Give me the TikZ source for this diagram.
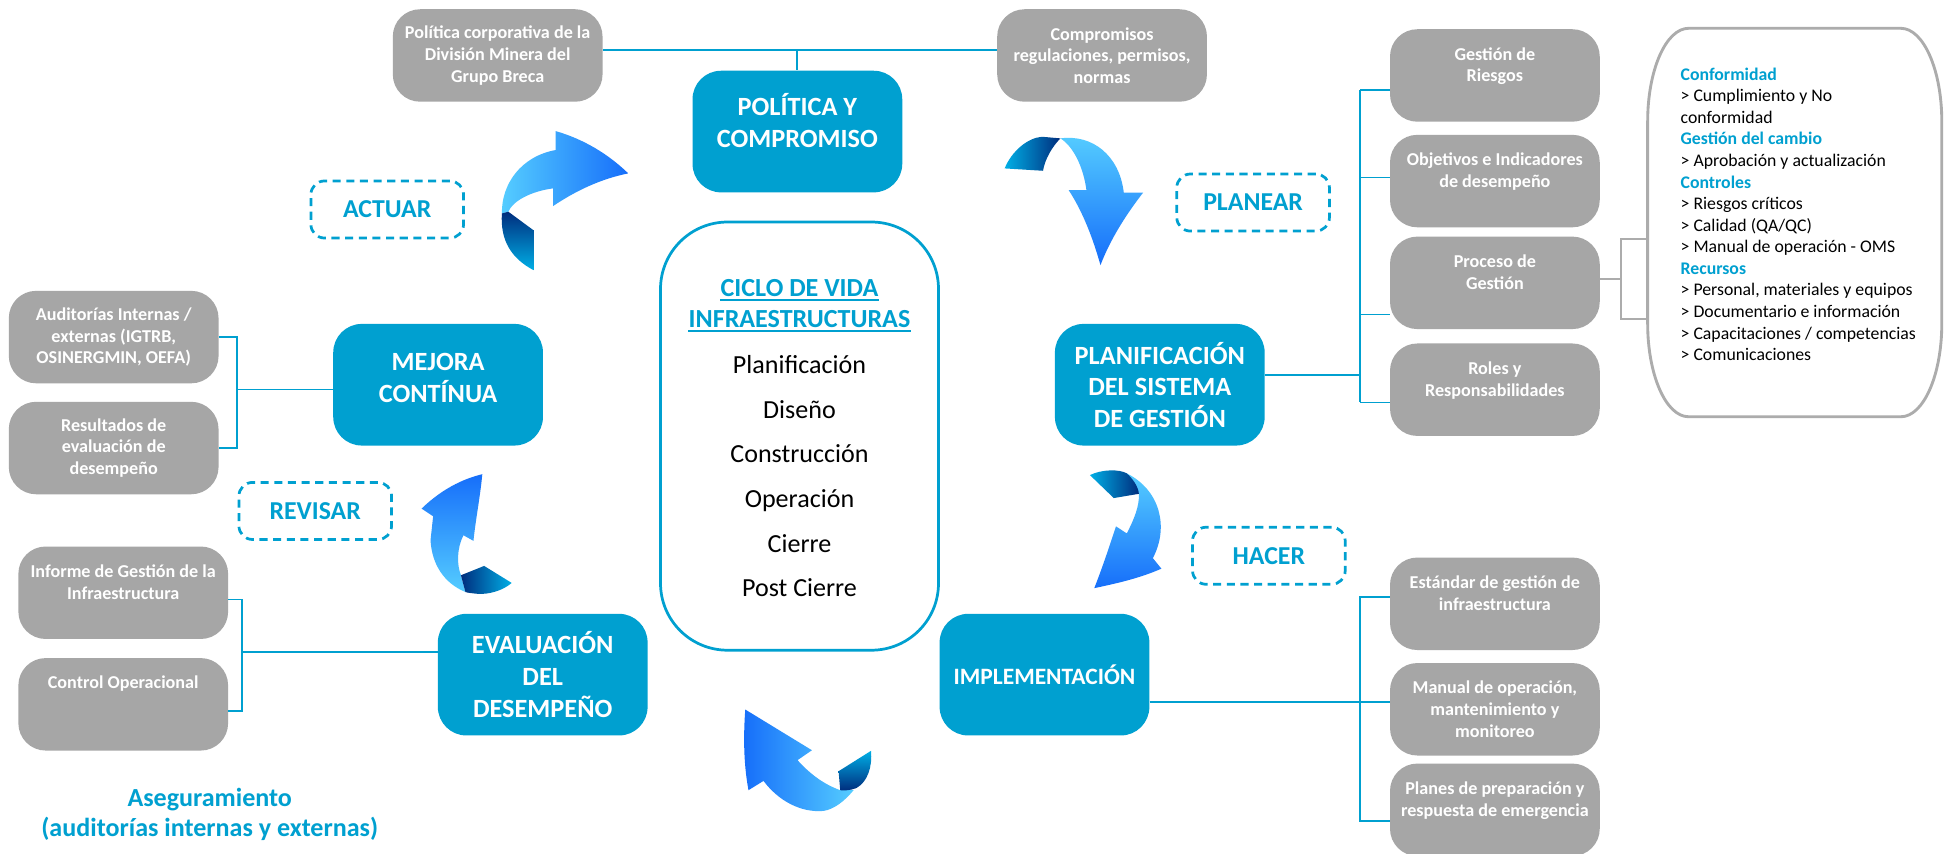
\documentclass[tikz,border=0pt]{standalone}
\usepackage{fontspec}
\setmainfont{Carlito}
\usetikzlibrary{positioning}

\definecolor{azul}{RGB}{0,160,208}
\definecolor{gris}{RGB}{166,166,166}
\definecolor{grisclaro}{RGB}{172,172,172}
\definecolor{claro}{RGB}{85,205,255}
\definecolor{medio}{RGB}{22,110,250}
\definecolor{oscuro}{RGB}{0,45,125}
\definecolor{cian}{RGB}{0,175,230}

\begin{document}
\begin{tikzpicture}[x=1pt,y=-1pt,
    fase/.style={fill=azul,rounded corners=23pt,minimum width=169pt,minimum height=98pt,
      text=white,align=center,inner sep=2pt,font=\bfseries\fontsize{21.2}{25.5}\selectfont},
    caja/.style={fill=gris,rounded corners=22pt,minimum width=169pt,minimum height=74.5pt,
      text=white,align=center,inner sep=2pt,font=\bfseries\fontsize{14.6}{17.5}\selectfont},
    etiqueta/.style={draw=azul,line width=2.2pt,dash pattern=on 6.5pt off 4.5pt,rounded corners=11pt,
      minimum width=123pt,minimum height=46pt,text=azul,font=\bfseries\fontsize{20.8}{25}\selectfont},
    linea/.style={azul,line width=1.5pt},
    lineagris/.style={grisclaro,line width=1.6pt},
    titulo/.style={anchor=base,inner sep=0pt,text=azul,font=\bfseries\fontsize{21}{25}\selectfont},
    etapa/.style={anchor=base,inner sep=0pt,font=\fontsize{21}{25}\selectfont},
    cab/.style={anchor=base west,inner sep=0pt,text=azul,font=\bfseries\fontsize{14.3}{17.4}\selectfont},
    punto/.style={anchor=base west,inner sep=0pt,font=\fontsize{14.3}{17.4}\selectfont},
  ]
    \path[use as bounding box,fill=white] (0,0) rectangle (1568,688);

    % fases del ciclo
    \node[fase] (politica) at (642.5,106) {POLÍTICA Y\\COMPROMISO\\[-8pt]\mbox{}};
    \node[fase] (planif) at (934.5,310) {PLANIFICACIÓN\\DEL SISTEMA\\DE GESTIÓN};
    \node[fase,font=\bfseries\fontsize{18.9}{23}\selectfont] (implem) at (841.6,543.6) {IMPLEMENTACIÓN};
    \node[fase] (evalua) at (437.3,543.6) {EVALUACIÓN\\DEL\\DESEMPEÑO};
    \node[fase] (mejora) at (353,310) {MEJORA\\CONTÍNUA\\[-14pt]\mbox{}};

    % cajas grises
    \node[caja] (corporativa) at (401,44.7) {Política corporativa de la\\División Minera del\\Grupo Breca};
    \node[caja] (compromisos) at (888,44.7) {Compromisos\\regulaciones, permisos,\\normas};
    \node[caja] (riesgos) at (1204.5,60.8) {Gestión de\\Riesgos\\\mbox{}};
    \node[caja] (objetivos) at (1204.5,145.9) {Objetivos e Indicadores\\de desempeño\\\mbox{}};
    \node[caja] (proceso) at (1204.5,227.9) {Proceso de\\Gestión\\\mbox{}};
    \node[caja] (roles) at (1204.5,314) {Roles y\\Responsabilidades\\\mbox{}};
    \node[caja] (estandar) at (1204.5,486.5) {Estándar de gestión de\\infraestructura\\\mbox{}};
    \node[caja] (manual) at (1204.5,571.5) {Manual de operación,\\mantenimiento y\\monitoreo};
    \node[caja] (planes) at (1204.5,652.5) {Planes de preparación y\\respuesta de emergencia\\\mbox{}};
    \node[caja] (auditorias) at (91.6,271.6) {Auditorías Internas /\\externas (IGTRB,\\OSINERGMIN, OEFA)};
    \node[caja] (resultados) at (91.6,361) {Resultados de\\evaluación de\\desempeño};
    \node[caja] (informe) at (99.3,477.6) {Informe de Gestión de la\\Infraestructura\\\mbox{}};
    \node[caja] (control) at (99.3,567.5) {Control Operacional\\\mbox{}\\\mbox{}};

    % etiquetas PHVA
    \node[etiqueta] (actuar) at (312,168.8) {ACTUAR};
    \node[etiqueta] (planear) at (1009.7,163.2) {PLANEAR};
    \node[etiqueta] (revisar) at (254,411.7) {REVISAR};
    \node[etiqueta] (hacer) at (1022.4,447.8) {HACER};

    % ciclo de vida
    \node[draw=azul,line width=2.2pt,rounded corners=54pt,fill=white,
      minimum width=224pt,minimum height=345pt] (ciclo) at (644.2,351.4) {};
    \node[titulo] (ciclo1) at (644.2,239) {CICLO DE VIDA};
    \node[titulo] (ciclo2) at (644.2,264) {INFRAESTRUCTURAS};
    \foreach \n in {ciclo1,ciclo2}
      \draw[azul,line width=1.5pt] ([yshift=-2.6pt]\n.base west) -- ([yshift=-2.6pt]\n.base east);
    \foreach \e [count=\i] in {Planificación,Diseño,Construcción,Operación,Cierre,Post Cierre}
      \node[etapa] (etapa\i) at (644.2,{265+36*\i}) {\e};

    % recuadro de procesos
    \draw[grisclaro,line width=2.3pt,fill=white] (1360.6,22.8) -- (1531.6,22.8)
      .. controls (1549.8,22.8) and (1564.6,56.4) .. (1564.6,97.8) -- (1564.6,260.8)
      .. controls (1564.6,302.2) and (1549.8,335.8) .. (1531.6,335.8) -- (1360.6,335.8)
      .. controls (1342.4,335.8) and (1327.6,302.2) .. (1327.6,260.8) -- (1327.6,97.8)
      .. controls (1327.6,56.4) and (1342.4,22.8) .. (1360.6,22.8) -- cycle;
    \foreach \sty/\txt [count=\i] in {cab/Conformidad, punto/{> Cumplimiento y No}, punto/conformidad,
        cab/Gestión del cambio, punto/{> Aprobación y actualización}, cab/Controles,
        punto/{> Riesgos críticos}, punto/{> Calidad (QA/QC)}, punto/{> Manual de operación - OMS},
        cab/Recursos, punto/{> Personal, materiales y equipos}, punto/{> Documentario e información},
        punto/{> Capacitaciones / competencias}, punto/{> Comunicaciones}}
      \node[\sty] (lista\i) at (1354,{47.1+17.4*\i}) {\txt};

    % Aseguramiento
    \node[titulo] (asegura1) at (169,649.7) {Aseguramiento};
    \node[titulo] (asegura2) at (169,674.4) {(auditorías internas y externas)};

    % conectores
    \coordinate (cima) at (642.5,40.3);
    \draw[linea] (corporativa.east |- cima) -- (compromisos.west |- cima);
    \draw[linea] (cima) -- (politica.north);

    \path (1096,72.5) coordinate (d1) (1096,143) coordinate (d2) (1096,253.4) coordinate (d3)
      (1096,324.3) coordinate (d4) (1096,302.5) coordinate (dp);
    \draw[linea] (d1) -- (d4);
    \foreach \c in {d1,d2,d3,d4} \draw[linea] (\c) -- (\c -| riesgos.west);
    \draw[linea] (planif.east |- dp) -- (dp);

    \path (1096,481) coordinate (i1) (1096,661.3) coordinate (i3) (1096,565.6) coordinate (ip);
    \draw[linea] (estandar.west |- i1) -- (i1) -- (i3) -- (planes.west |- i3);
    \draw[linea] (implem.east |- ip) -- (manual.west |- ip);

    \path (190.9,271.4) coordinate (m1) (190.9,360.8) coordinate (m2) (190.9,313.8) coordinate (mp);
    \draw[linea] (auditorias.east |- m1) -- (m1) -- (m2) -- (resultados.east |- m2);
    \draw[linea] (mp) -- (mejora.west |- mp);

    \path (195,483) coordinate (e1) (195,572.8) coordinate (e2) (195,525.3) coordinate (ep);
    \draw[linea] (informe.east |- e1) -- (e1) -- (e2) -- (control.east |- e2);
    \draw[linea] (ep) -- (evalua.west |- ep);

    \path (1306,192.6) coordinate (g1) (1306,257) coordinate (g2) (1306,225) coordinate (gp)
      (1327.6,192.6) coordinate (r1) (1327.6,257) coordinate (r2);
    \draw[lineagris] (r1) -- (g1) -- (g2) -- (r2);
    \draw[lineagris] (proceso.east |- gp) -- (gp);

    % flechas curvas
    % actuar
    \shade[left color=claro,right color=medio] (404.4,172) .. controls (404,148) and (420,126) .. (447.6,120.9)
      -- (447.6,105.6) .. controls (470,112) and (490,124) .. (506.2,139.7)
      .. controls (485,144) and (465,153) .. (445.7,166) -- (445.7,151.8)
      .. controls (428,154) and (413,162) .. (409.6,170.6) -- cycle;
    \shade[top color=oscuro,bottom color=cian] (404.4,172) -- (409.6,170.6) -- (429.7,185.4) -- (429.7,217.6)
      .. controls (412,208) and (403,194) .. (404.4,172) -- cycle;
    % planear
    \shade[top color=claro,bottom color=medio] (854.4,111.5) .. controls (880,108) and (902,125) .. (905.5,155.3)
      -- (921,155.3) .. controls (908,172) and (895,192) .. (886.7,213.6)
      .. controls (880,190) and (872,170) .. (861.1,153.2) -- (875.4,153.2)
      .. controls (873,135) and (865,118) .. (854.4,111.5) -- cycle;
    \shade[left color=cian,right color=oscuro] (809.5,135.7) .. controls (815,122) and (828,111) .. (839.6,110.2)
      -- (854.4,111.5) .. controls (848,118) and (842,128) .. (840.4,137.6) -- cycle;
    % hacer
    \shade[top color=claro,bottom color=medio] (907.9,381.4) .. controls (935,395) and (942,425) .. (928.9,449.7)
      -- (935.8,458.2) .. controls (918,466) and (900,470) .. (881.7,473.9)
      .. controls (888,458) and (894,440) .. (899.2,424.1) -- (907.9,429.8)
      .. controls (914,418) and (918,408) .. (917.7,397.9) -- cycle;
    \shade[left color=cian,right color=oscuro] (878.2,382.8) .. controls (888,378) and (902,378) .. (907.9,381.4)
      .. controls (913,386) and (917,392) .. (917.7,397.9) -- (897.4,401.3) -- cycle;
    % abajo
    \shade[left color=medio,right color=claro] (600.5,571.7) -- (654.2,604.5) -- (642.6,612.5)
      .. controls (653,624) and (664,632) .. (677,636.7) -- (687.8,636.7)
      .. controls (680,646) and (672,652) .. (663.6,653.4) .. controls (645,655) and (627,645) .. (615.2,629.2)
      -- (603.1,636.7) .. controls (599,615) and (599,592) .. (600.5,571.7) -- cycle;
    \shade[top color=cian,bottom color=oscuro] (675.7,621.4) -- (701.8,605) .. controls (703,618) and (699,630) .. (690,635)
      .. controls (685,637) and (680,637) .. (677,636.7) -- cycle;
    % revisar
    \shade[top color=medio,bottom color=claro] (388.6,382.1) .. controls (387,400) and (383,420) .. (381.5,435.8)
      -- (373.4,431.3) .. controls (368,442) and (368,455) .. (371.4,463.5) -- (375,477)
      .. controls (358,470) and (348,455) .. (346.9,435.3) -- (349,416) -- (339.7,409.8)
      .. controls (355,395) and (372,386) .. (388.6,382.1) -- cycle;
    \shade[left color=oscuro,right color=cian] (371.4,463.5) -- (390.1,456) -- (412.3,469.7)
      .. controls (405,476) and (394,479) .. (385,478.5) .. controls (380,478) and (376,477.5) .. (375,477) -- cycle;
\end{tikzpicture}
\end{document}
